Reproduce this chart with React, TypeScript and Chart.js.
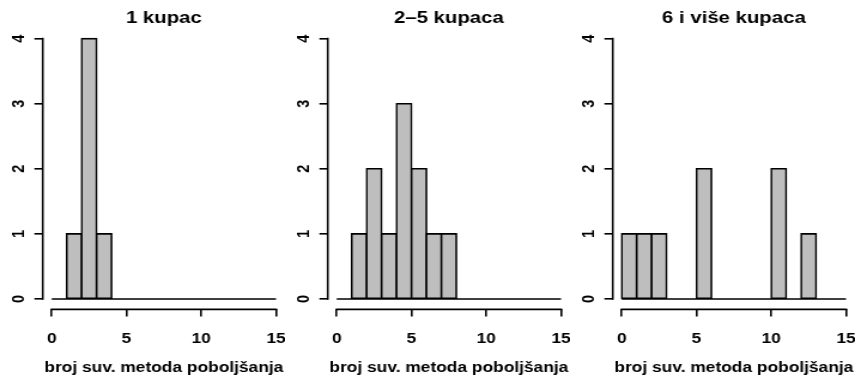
import React, { useEffect, useRef } from "react";
import { Chart, registerables } from "chart.js";

Chart.register(...registerables);

// ---- data ----
const BIN_STARTS = [0, 1, 2, 3, 4, 5, 6, 7, 8, 9, 10, 11, 12, 13, 14];
const BIN_WIDTH = 1;
const COUNTS_1 = [0, 1, 4, 1, 0, 0, 0, 0, 0, 0, 0, 0, 0, 0, 0];
const COUNTS_2 = [0, 1, 2, 1, 3, 2, 1, 1, 0, 0, 0, 0, 0, 0, 0];
const COUNTS_3 = [1, 1, 1, 0, 0, 2, 0, 0, 0, 0, 2, 0, 1, 0, 0];
const TITLES = ["1 kupac", "2\u20135 kupaca", "6 i vi\u0161e kupaca"];
const X_LABEL = "broj suv. metoda poboljšanja";
const X_TICKS = [0, 5, 10, 15];
const Y_TICKS = [0, 1, 2, 3, 4];

// ---- style ----
const FONT = "'Liberation Sans', Arial, Helvetica, sans-serif";
const PANEL_W = 285;
const LOGICAL_W = 238;
const H = 375;
const LW = 1.6;

function makeConfig(title: string, counts: number[]): any {
  const xMin = X_TICKS[0];
  const xMax = X_TICKS[X_TICKS.length - 1];
  const yMin = Y_TICKS[0];
  const yMax = Y_TICKS[Y_TICKS.length - 1];
  const xPad = (xMax - xMin) * 0.04;
  const yPad = (yMax - yMin) * 0.04;

  const bars = BIN_STARTS.map((s, i) => ({ x: s + BIN_WIDTH / 2, y: counts[i] })).filter(
    (d) => d.y > 0
  );
  const lastEdge = BIN_STARTS[BIN_STARTS.length - 1] + BIN_WIDTH;
  const baseline = [
    { x: BIN_STARTS[0], y: 0 },
    { x: lastEdge, y: 0 },
  ];

  const axisLines = {
    id: "rAxisLines",
    afterDraw(chart: any) {
      const { ctx, chartArea, scales } = chart;
      const xs = scales.x;
      const ys = scales.y;
      ctx.save();
      ctx.strokeStyle = "#000";
      ctx.lineWidth = LW;
      ctx.lineCap = "square";
      ctx.beginPath();
      ctx.moveTo(xs.getPixelForValue(xMin), chartArea.bottom);
      ctx.lineTo(xs.getPixelForValue(xMax), chartArea.bottom);
      ctx.moveTo(chartArea.left, ys.getPixelForValue(yMin));
      ctx.lineTo(chartArea.left, ys.getPixelForValue(yMax));
      ctx.stroke();
      ctx.restore();
    },
  };

  const tickFont = { family: FONT, size: 14.5, weight: "bold" as const };

  return {
    type: "bar",
    data: {
      datasets: [
        {
          type: "line",
          data: baseline,
          borderColor: "#000",
          borderWidth: LW,
          pointRadius: 0,
          fill: false,
        },
        {
          type: "bar",
          data: bars,
          backgroundColor: "#bebebe",
          borderColor: "#000",
          borderWidth: LW,
          borderSkipped: false,
          inflateAmount: LW / 2,
          barPercentage: 1,
          categoryPercentage: 1,
        },
      ],
    },
    options: {
      responsive: false,
      animation: false,
      devicePixelRatio: 1,
      events: [],
      layout: { padding: 0 },
      plugins: {
        legend: { display: false },
        tooltip: { enabled: false },
        title: {
          display: true,
          text: title,
          fullSize: false,
          color: "#000",
          font: { family: FONT, size: 17, weight: "bold" },
          padding: { top: 7.8, bottom: 0 },
        },
      },
      scales: {
        x: {
          type: "linear",
          position: "bottom",
          min: xMin - xPad,
          max: xMax + xPad,
          offset: false,
          afterFit: (s: any) => {
            s.height = 65.6;
            s.paddingLeft = 0;
            s.paddingRight = 0;
          },
          afterBuildTicks: (s: any) => {
            s.ticks = X_TICKS.map((v) => ({ value: v }));
          },
          grid: {
            drawOnChartArea: false,
            drawTicks: true,
            tickLength: 7,
            color: "#000",
            lineWidth: LW,
            offset: false,
          },
          border: { display: false },
          ticks: {
            color: "#000",
            font: tickFont,
            padding: 14,
            maxRotation: 0,
            autoSkip: false,
            callback: (v: any) => String(v),
          },
          title: {
            display: true,
            text: X_LABEL,
            color: "#000",
            font: tickFont,
            padding: { top: 0, bottom: -1.5 },
          },
        },
        y: {
          type: "linear",
          min: yMin - yPad,
          max: yMax + yPad,
          afterFit: (s: any) => {
            s.width = 35.7;
            s.paddingTop = 0;
            s.paddingBottom = 0;
          },
          afterBuildTicks: (s: any) => {
            s.ticks = Y_TICKS.map((v) => ({ value: v }));
          },
          grid: {
            drawOnChartArea: false,
            drawTicks: true,
            tickLength: 7,
            color: "#000",
            lineWidth: LW,
          },
          border: { display: false },
          ticks: {
            color: "#000",
            font: tickFont,
            padding: 8.2,
            minRotation: 90,
            maxRotation: 90,
            crossAlign: "center",
            autoSkip: false,
            callback: (v: any) => String(v),
          },
        },
      },
    },
    plugins: [axisLines],
  };
}

function Histogram({ title, counts, left }: { title: string; counts: number[]; left: number }) {
  const ref = useRef<HTMLCanvasElement>(null);
  useEffect(() => {
    const chart = new Chart(ref.current as HTMLCanvasElement, makeConfig(title, counts));
    return () => chart.destroy();
  }, [title, counts]);
  return (
    <canvas
      ref={ref}
      width={LOGICAL_W}
      height={H}
      style={{
        position: "absolute",
        left,
        top: 0,
        width: PANEL_W,
        height: H,
        display: "block",
      }}
    />
  );
}

const ALL_COUNTS = [COUNTS_1, COUNTS_2, COUNTS_3];

export default function App() {
  return (
    <div
      style={{
        position: "absolute",
        left: 0,
        top: 0,
        width: PANEL_W * 3,
        height: H,
        background: "#fff",
        overflow: "hidden",
      }}
    >
      {TITLES.map((t, i) => (
        <Histogram key={i} title={t} counts={ALL_COUNTS[i]} left={i * PANEL_W} />
      ))}
    </div>
  );
}
